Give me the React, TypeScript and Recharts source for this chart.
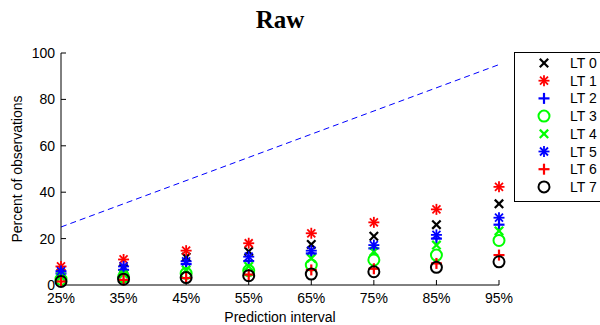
import { ScatterChart, Scatter, XAxis, YAxis, ReferenceLine } from 'recharts';

// prediction interval (%) on the x axis
const intervals = [25, 35, 45, 55, 65, 75, 85, 95];
const yTicks = [0, 20, 40, 60, 80, 100];

// percent of observations falling inside each interval, per lead time
const lt0 = [5, 7, 12, 14.5, 17.5, 21, 26, 35];
const lt1 = [8, 11, 14.8, 18, 22.3, 27, 32.6, 42.3];
const lt2 = [5, 6.5, 9, 10.3, 13.6, 15.8, 20, 26];
const lt3 = [2.5, 3.5, 5, 6.2, 8.6, 10.8, 12.9, 19.2];
const lt4 = [3.5, 4.7, 6.5, 8, 11.5, 14.4, 17.2, 23.3];
const lt5 = [6, 8, 10.2, 12.2, 14.8, 17.2, 21.6, 29];
const lt6 = [1.5, 2.2, 3, 4.5, 6.5, 7, 9.3, 12.9];
const lt7 = [1.5, 2.5, 3.2, 4, 4.7, 5.7, 7.6, 10];

// perfect calibration line
const diagonal = [
  { x: 25, y: 25 },
  { x: 95, y: 95 }
];

type MarkerKind = 'x' | 'star' | 'plus' | 'circle';

const series: { name: string; values: number[]; color: string; marker: MarkerKind }[] = [
  { name: 'LT 0', values: lt0, color: '#000000', marker: 'x' },
  { name: 'LT 1', values: lt1, color: '#ff0000', marker: 'star' },
  { name: 'LT 2', values: lt2, color: '#0000ff', marker: 'plus' },
  { name: 'LT 3', values: lt3, color: '#00ff00', marker: 'circle' },
  { name: 'LT 4', values: lt4, color: '#00ff00', marker: 'x' },
  { name: 'LT 5', values: lt5, color: '#0000ff', marker: 'star' },
  { name: 'LT 6', values: lt6, color: '#ff0000', marker: 'plus' },
  { name: 'LT 7', values: lt7, color: '#000000', marker: 'circle' }
];

const Marker = ({ kind, color, cx, cy }: { kind: MarkerKind; color: string; cx: number; cy: number }) => {
  if (kind === 'circle') {
    return <circle cx={cx} cy={cy} r={5.5} fill="none" stroke={color} strokeWidth={2} />;
  }
  if (kind === 'x') {
    const d = 4.2;
    return (
      <g stroke={color} strokeWidth={2.2}>
        <line x1={cx - d} y1={cy - d} x2={cx + d} y2={cy + d} />
        <line x1={cx - d} y1={cy + d} x2={cx + d} y2={cy - d} />
      </g>
    );
  }
  if (kind === 'plus') {
    const d = 5.5;
    return (
      <g stroke={color} strokeWidth={2.2}>
        <line x1={cx - d} y1={cy} x2={cx + d} y2={cy} />
        <line x1={cx} y1={cy - d} x2={cx} y2={cy + d} />
      </g>
    );
  }
  const d = 5.5;
  const k = 4;
  return (
    <g stroke={color} strokeWidth={1.8}>
      <line x1={cx - d} y1={cy} x2={cx + d} y2={cy} />
      <line x1={cx} y1={cy - d} x2={cx} y2={cy + d} />
      <line x1={cx - k} y1={cy - k} x2={cx + k} y2={cy + k} />
      <line x1={cx - k} y1={cy + k} x2={cx + k} y2={cy - k} />
    </g>
  );
};

const App = () => {
  return (
    <div
      style={{
        position: 'absolute',
        left: 0,
        top: 0,
        width: 600,
        height: 325,
        background: '#fff',
        fontFamily: '"Liberation Sans", Arial, sans-serif'
      }}
    >
      <ScatterChart width={600} height={325} margin={{ top: 53, right: 101, bottom: 0, left: 0 }}>
        <XAxis
          dataKey="x"
          type="number"
          domain={[25, 95]}
          ticks={intervals}
          tickFormatter={(v) => `${v}%`}
          height={40}
          tickSize={-5}
          tickMargin={13}
          stroke="#000"
          tick={{ fill: '#000', fontSize: 14 }}
          label={{ value: 'Prediction interval', position: 'insideBottom', offset: 3, fill: '#000', fontSize: 14 }}
        />
        <XAxis
          xAxisId="top"
          orientation="top"
          type="number"
          domain={[25, 95]}
          ticks={intervals}
          tickFormatter={() => ''}
          height={0}
          tickSize={-5}
          stroke="#000"
        />
        <YAxis
          dataKey="y"
          type="number"
          domain={[0, 100]}
          ticks={yTicks}
          width={61}
          tickSize={-5}
          tickMargin={11}
          stroke="#000"
          tick={{ fill: '#000', fontSize: 14 }}
          label={{
            value: 'Percent of observations',
            angle: -90,
            position: 'insideLeft',
            offset: 17,
            fill: '#000',
            fontSize: 14,
            style: { textAnchor: 'middle' }
          }}
        />
        <YAxis
          yAxisId="right"
          orientation="right"
          type="number"
          domain={[0, 100]}
          ticks={yTicks}
          tickFormatter={() => ''}
          width={0}
          tickSize={-5}
          stroke="#000"
        />
        <ReferenceLine segment={diagonal} stroke="#0000ff" strokeDasharray="6 4" strokeWidth={1} />
        {series.map((s) => (
          <Scatter
            key={s.name}
            name={s.name}
            data={intervals.map((x, i) => ({ x, y: s.values[i] }))}
            isAnimationActive={false}
            shape={(p: any) => <Marker kind={s.marker} color={s.color} cx={p.cx} cy={p.cy} />}
          />
        ))}
      </ScatterChart>
      <svg
        width={600}
        height={325}
        style={{ position: 'absolute', left: 0, top: 0, pointerEvents: 'none' }}
      >
        <text
          x={280}
          y={28}
          textAnchor="middle"
          fontFamily='"Liberation Serif", "DejaVu Serif", serif'
          fontWeight="bold"
          fontSize={25}
          fill="#000"
        >
          Raw
        </text>
        <rect x={514.5} y={52.5} width={100} height={149} fill="#fff" stroke="#000" strokeWidth={1} />
        {series.map((s, i) => {
          const cy = 63 + i * 17.7;
          return (
            <g key={s.name}>
              <Marker kind={s.marker} color={s.color} cx={544} cy={cy} />
              <text x={570} y={cy} dominantBaseline="central" fontSize={14} fill="#000">
                {s.name}
              </text>
            </g>
          );
        })}
      </svg>
    </div>
  );
};

export default App;
